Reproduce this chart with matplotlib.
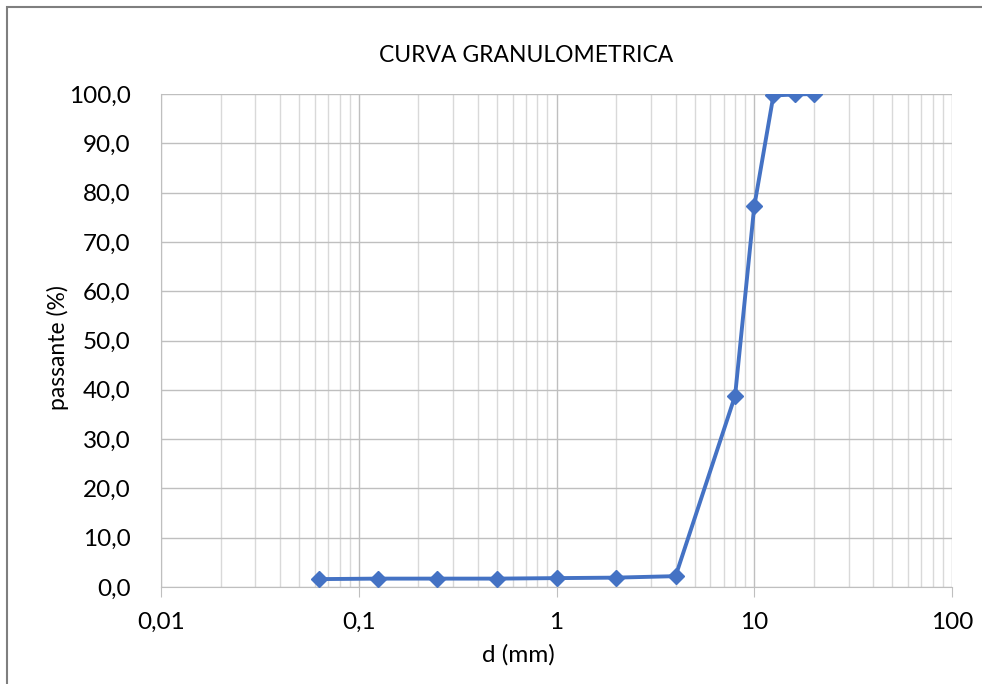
import matplotlib
matplotlib.use("Agg")
import matplotlib.pyplot as plt
from matplotlib.ticker import FixedLocator, LogLocator, NullFormatter, FuncFormatter
from matplotlib.patches import Rectangle

d_mm = [0.063, 0.125, 0.25, 0.5, 1, 2, 4, 8, 10, 12.5, 16, 20]
passante = [1.6, 1.7, 1.7, 1.7, 1.8, 1.9, 2.2, 38.8, 77.2, 99.7, 99.9, 100.0]
x_ticks = [0.01, 0.1, 1, 10, 100]
x_tick_labels = ["0,01", "0,1", "1", "10", "100"]
y_ticks = [0, 10, 20, 30, 40, 50, 60, 70, 80, 90, 100]

plt.rcParams['font.family'] = ['Lato', 'DejaVu Sans']

W, H = 982, 684
fig = plt.figure(figsize=(9.82, 6.84), dpi=100)
ax = fig.add_axes([161/W, (H-587)/H, (952-161)/W, (587-94)/H])

ax.plot(d_mm, passante, color='#4472C4', lw=2.8, marker='D', markersize=8.5,
        markerfacecolor='#4472C4', markeredgecolor='#4472C4', zorder=3)

ax.set_xscale('log')
ax.set_xlim(0.01, 100)
ax.set_ylim(0, 100)
ax.xaxis.set_major_locator(FixedLocator(x_ticks))
ax.set_xticklabels(x_tick_labels)
ax.xaxis.set_minor_locator(LogLocator(base=10, subs=range(2, 10), numticks=20))
ax.xaxis.set_minor_formatter(NullFormatter())
ax.set_yticks(y_ticks)
ax.yaxis.set_major_formatter(FuncFormatter(lambda v, p: f"{v:.1f}".replace('.', ',')))

ax.grid(which='major', color='#BFBFBF', lw=1.0)
ax.grid(which='minor', axis='x', color='#D9D9D9', lw=1.0)
ax.set_axisbelow(True)
for s in ['top', 'right']:
    ax.spines[s].set_visible(False)
ax.spines['left'].set_color('#BFBFBF')
ax.spines['bottom'].set_color('#BFBFBF')
ax.tick_params(axis='x', which='major', length=7, color='#BFBFBF', labelsize=17.5, pad=11)
ax.tick_params(axis='x', which='minor', length=0)
ax.tick_params(axis='y', length=0, labelsize=17.5, pad=22)

fig.text(518/W, 1-655/H, 'd (mm)', fontsize=17.5, ha='center', va='center')
fig.text(58/W, 1-348/H, 'passante (%)', fontsize=16.5, rotation=90, ha='center', va='center')
fig.text(526/W, 1-55/H, 'CURVA GRANULOMETRICA', fontsize=16.5, ha='center', va='center')

fig.patches.append(Rectangle((7/W, -0.1), 1.2, (H-7)/H + 0.1, transform=fig.transFigure,
                             fill=False, edgecolor='#7F7F7F', lw=1.5))

fig.savefig('out.png', dpi=100)
